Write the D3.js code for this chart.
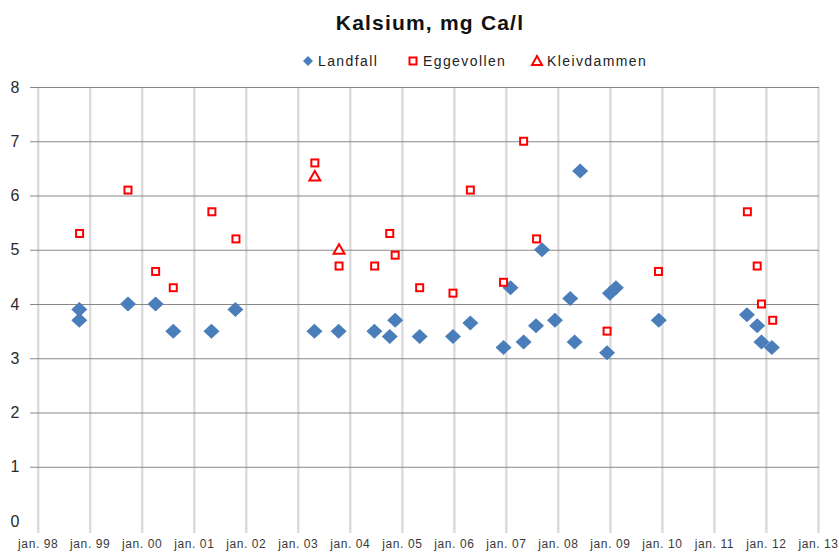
<!DOCTYPE html>
<html>
<head>
<meta charset="utf-8">
<script src="https://cdn.jsdelivr.net/npm/d3@7"></script>
<style>
  body { margin: 0; background: #fff; }
  svg { display: block; font-family: "Liberation Sans", Arial, sans-serif; }
</style>
</head>
<body>
<svg id="chart"></svg>
<script>
// Data (date, value)
const landfallDates = ['1998-10-20', '1998-10-20', '1999-09-27', '2000-04-08', '2000-08-10', '2001-05-05', '2001-10-20',
  '2003-04-28', '2003-10-15', '2004-06-22', '2004-10-08', '2004-11-15', '2005-05-06', '2005-12-26', '2006-04-27',
  '2006-12-16', '2007-02-03', '2007-05-06', '2007-08-01', '2007-09-12', '2007-12-12', '2008-03-28', '2008-04-28',
  '2008-06-06', '2008-12-12', '2009-01-01', '2009-02-12', '2009-12-10', '2011-08-21', '2011-11-01', '2011-12-01', '2012-02-12'];
const landfallValues = [3.9, 3.7, 4.0, 4.0, 3.5, 3.5, 3.9,
  3.5, 3.5, 3.5, 3.4, 3.7, 3.4, 3.4, 3.65,
  3.2, 4.3, 3.3, 3.6, 5.0, 3.7, 4.1, 3.3,
  6.45, 3.1, 4.2, 4.3, 3.7, 3.8, 3.6, 3.3, 3.2];

const eggevollenDates = ['1998-10-22', '1999-09-27', '2000-04-08', '2000-08-10', '2001-05-08', '2001-10-24',
  '2003-05-01', '2003-10-18', '2004-06-24', '2004-10-08', '2004-11-15', '2005-05-06', '2005-12-26', '2006-04-27',
  '2006-12-16', '2007-05-06', '2007-08-05', '2008-12-12', '2009-12-08', '2011-08-24', '2011-11-01', '2011-12-01', '2012-02-18'];
const eggevollenValues = [5.3, 6.1, 4.6, 4.3, 5.7, 5.2,
  6.6, 4.7, 4.7, 5.3, 4.9, 4.3, 4.2, 6.1,
  4.4, 7.0, 5.2, 3.5, 4.6, 5.7, 4.7, 4.0, 3.7];

const kleivdammenDates = ['2003-05-01', '2003-10-18'];
const kleivdammenValues = [6.35, 5.0];

const yTicks = [0, 1, 2, 3, 4, 5, 6, 7, 8];
const seriesNames = ['Landfall', 'Eggevollen', 'Kleivdammen'];

const width = 839, height = 554;
const parse = d3.timeParse('%Y-%m-%d');

const svg = d3.select('#chart')
  .attr('width', width)
  .attr('height', height);

// scales
const x = d3.scaleTime()
  .domain([parse('1998-01-01'), parse('2013-01-01')])
  .range([37.7, 818]);

const y = d3.scaleLinear()
  .domain([0, 8])
  .range([521, 87]);

// vertical gridlines + labels
const xAxis = d3.axisBottom(x)
  .ticks(d3.timeYear.every(1))
  .tickSize(-(533 - 87))
  .tickPadding(6)
  .tickFormat(d => 'jan. ' + d3.timeFormat('%y')(d));

const gx = svg.append('g')
  .attr('transform', 'translate(0,533)')
  .call(xAxis);
gx.select('.domain').remove();
gx.selectAll('line').attr('stroke', '#dcdcdc').attr('stroke-width', 2.5);
gx.selectAll('text')
  .attr('fill', '#3a3a3a')
  .style('font-size', '12px')
  .style('letter-spacing', '0.6px');

// horizontal gridlines + labels
const yAxis = d3.axisLeft(y)
  .tickValues(yTicks)
  .tickSize(-(819 - 30))
  .tickFormat(d3.format('d'));

const gy = svg.append('g')
  .attr('transform', 'translate(30,0)')
  .call(yAxis);
gy.select('.domain').remove();
gy.selectAll('line').attr('stroke', '#888').attr('stroke-width', 1);
gy.selectAll('.tick').filter(d => d === 0).select('line').remove();
gy.selectAll('text')
  .attr('x', -15)
  .attr('text-anchor', 'middle')
  .attr('fill', '#2a2a2a')
  .style('font-size', '16px');

// marker shapes
const diamond = 'M0,-7.5L8,0L0,7.5L-8,0Z';
const triangle = 'M0,-5.5L5.5,4L-5.5,4Z';

const landfall = landfallDates.map((d, i) => ({ date: parse(d), value: landfallValues[i] }));
const eggevollen = eggevollenDates.map((d, i) => ({ date: parse(d), value: eggevollenValues[i] }));
const kleivdammen = kleivdammenDates.map((d, i) => ({ date: parse(d), value: kleivdammenValues[i] }));

svg.append('g').selectAll('path')
  .data(landfall)
  .enter()
  .append('path')
  .attr('d', diamond)
  .attr('transform', d => `translate(${x(d.date)},${y(d.value)})`)
  .attr('fill', '#4a7ebb');

svg.append('g').selectAll('rect')
  .data(eggevollen)
  .enter()
  .append('rect')
  .attr('x', d => x(d.date) - 3.5)
  .attr('y', d => y(d.value) - 3.5)
  .attr('width', 7)
  .attr('height', 7)
  .attr('fill', '#fff')
  .attr('stroke', '#ff0000')
  .attr('stroke-width', 2);

svg.append('g').selectAll('path')
  .data(kleivdammen)
  .enter()
  .append('path')
  .attr('d', triangle)
  .attr('transform', d => `translate(${x(d.date)},${y(d.value)})`)
  .attr('fill', '#fff')
  .attr('stroke', '#ff0000')
  .attr('stroke-width', 2);

// title
svg.append('text')
  .attr('x', 430)
  .attr('y', 30)
  .attr('text-anchor', 'middle')
  .style('font-size', '21px')
  .style('font-weight', 'bold')
  .style('letter-spacing', '1.2px')
  .attr('fill', '#111')
  .text('Kalsium, mg Ca/l');

// legend
const legendX = [308, 413, 537];
const legend = svg.append('g').selectAll('g')
  .data(seriesNames)
  .enter()
  .append('g')
  .attr('transform', (d, i) => `translate(${legendX[i]},61)`);

legend.each(function (d, i) {
  const g = d3.select(this);
  if (i === 0) {
    g.append('path').attr('d', 'M0,-5L5,0L0,5L-5,0Z').attr('fill', '#4a7ebb');
  } else if (i === 1) {
    g.append('rect').attr('x', -3.5).attr('y', -3.5).attr('width', 7).attr('height', 7)
      .attr('fill', '#fff').attr('stroke', '#ff0000').attr('stroke-width', 2);
  } else {
    g.append('path').attr('d', 'M0,-5L5,4L-5,4Z')
      .attr('fill', '#fff').attr('stroke', '#ff0000').attr('stroke-width', 2);
  }
  g.append('text')
    .attr('x', 10)
    .attr('y', 5)
    .style('font-size', '14px')
    .style('letter-spacing', '1.4px')
    .attr('fill', '#222')
    .text(d);
});
</script>
</body>
</html>
